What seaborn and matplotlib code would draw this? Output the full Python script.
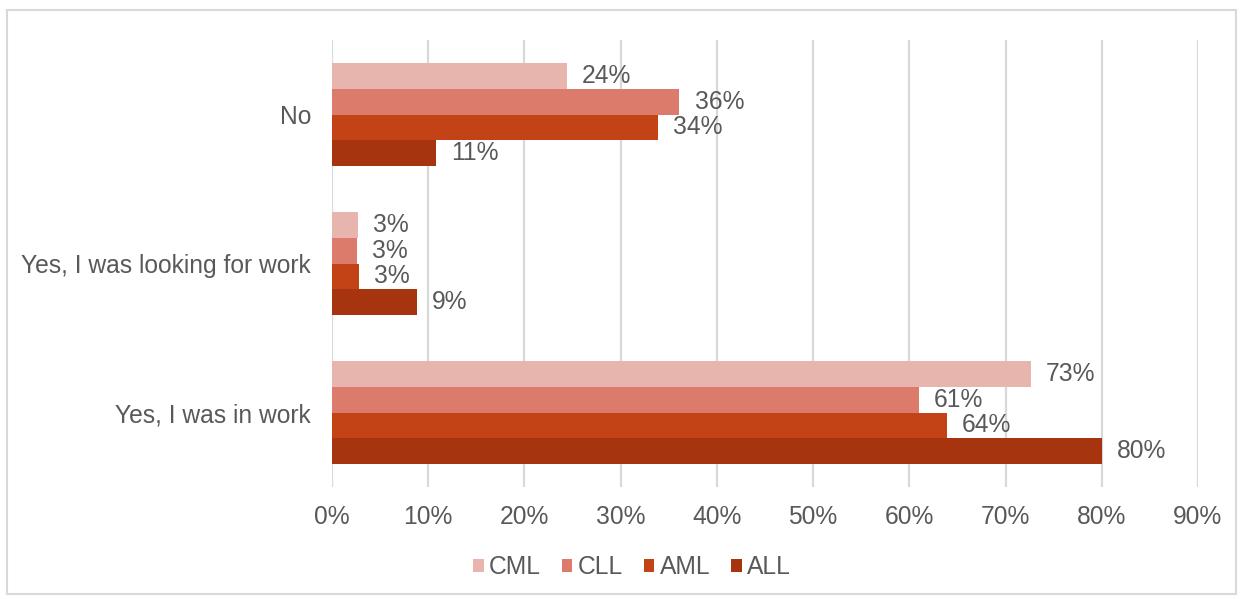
import matplotlib
matplotlib.use("Agg")
import matplotlib.pyplot as plt
import matplotlib.patches as mpatches
import seaborn as sns
import pandas as pd

categories = ["No", "Yes, I was looking for work", "Yes, I was in work"]
series = ["CML", "CLL", "AML", "ALL"]
cml = [24.4, 2.7, 72.6]
cll = [36.1, 2.6, 61.0]
aml = [33.9, 2.8, 63.9]
all_ = [10.8, 8.8, 80.0]
x_ticks = [0, 10, 20, 30, 40, 50, 60, 70, 80, 90]
colors = ["#E8B4AE", "#DC7A6B", "#C44316", "#A5340F"]

rows = []
for name, vals in zip(series, [cml, cll, aml, all_]):
    for cat, v in zip(categories, vals):
        rows.append({"category": cat, "series": name, "value": v})
df = pd.DataFrame(rows)

sns.set_theme(style="white")
plt.rcParams["font.family"] = ["Liberation Sans", "DejaVu Sans"]
text_color = "#595959"
grid_color = "#D9D9D9"
fs = 17.7

fig = plt.figure(figsize=(12.42, 5.99), dpi=100)
ax = fig.add_axes([332 / 1242, 1 - 487 / 599, (1198 - 332) / 1242, (487 - 40) / 599])

sns.barplot(data=df, y="category", x="value", hue="series", order=categories,
            hue_order=series, palette=colors, orient="h", width=0.69,
            saturation=1, ax=ax, legend=True, edgecolor="none")

ax.set_xlim(0, 90)
ax.set_xticks(x_ticks)
ax.set_xticklabels([f"{t}%" for t in x_ticks])
ax.set_xlabel("")
ax.set_ylabel("")
ax.xaxis.grid(True, color=grid_color, linewidth=1.6)
ax.set_axisbelow(True)
for s in ax.spines.values():
    s.set_visible(False)
ax.tick_params(axis="both", length=0, labelsize=fs, colors=text_color)
ax.tick_params(axis="y", pad=15)
ax.tick_params(axis="x", pad=13)

for cont in ax.containers:
    ax.bar_label(cont, labels=[f"{v:.0f}%" for v in cont.datavalues],
                 padding=11, fontsize=fs, color=text_color)

leg = ax.get_legend()
handles = leg.legend_handles
leg.remove()
fig.legend(handles, series, loc="center", bbox_to_anchor=(0.509, 1 - 567 / 599),
           ncol=4, frameon=False, fontsize=fs, labelcolor=text_color,
           handlelength=0.42, handleheight=0.42, handletextpad=0.22,
           columnspacing=0.85)

fig.patches.append(mpatches.Rectangle((7 / 1242, 1 - 594 / 599), (1236 - 7) / 1242,
                                      (594 - 10) / 599, transform=fig.transFigure,
                                      fill=False, edgecolor=grid_color, linewidth=1.5))

fig.savefig("out.png", dpi=100, facecolor="white")
